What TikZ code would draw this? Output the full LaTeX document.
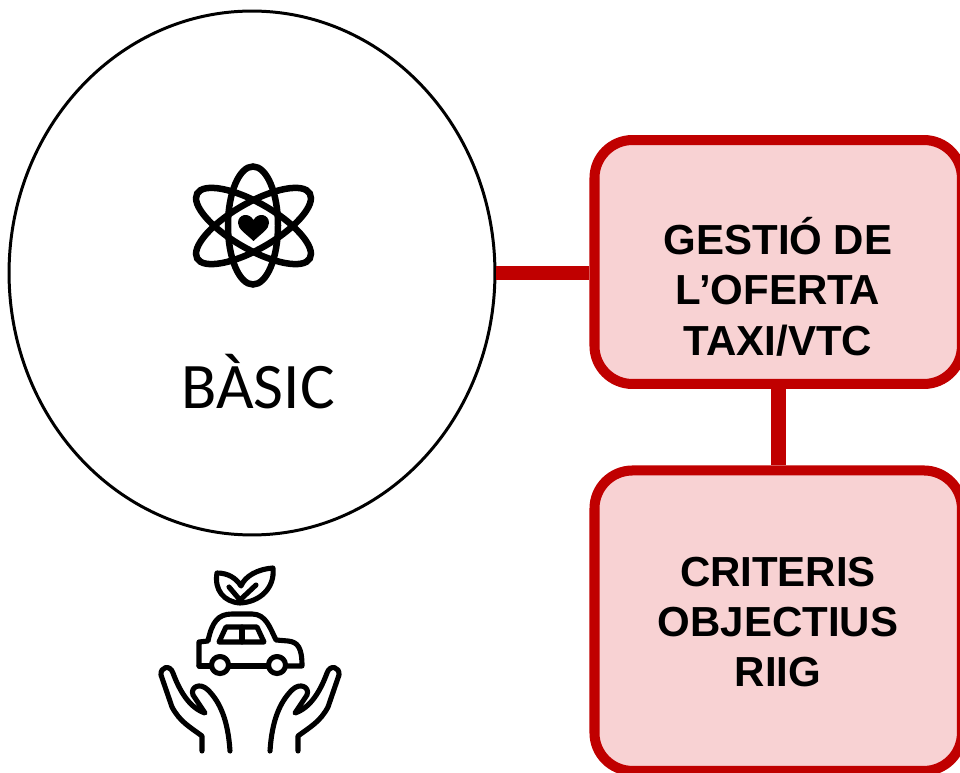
\documentclass[tikz,border=0pt]{standalone}
\usepackage{fontspec}
\usepackage{xcolor}
\setmainfont{Liberation Sans}
\newfontfamily\labelfont{Carlito}
\usetikzlibrary{shapes.geometric}
\definecolor{boxred}{HTML}{C00000}
\definecolor{boxfill}{HTML}{F8D2D3}
\tikzset{
  circleNode/.style={ellipse, draw=black, line width=1.7pt, fill=white, minimum width=9.72cm, minimum height=10.48cm, inner sep=0pt},
  boxNode/.style={rectangle, rounded corners=0.76cm, draw=boxred, fill=boxfill, line width=5.7pt, minimum width=7.35cm, inner sep=0pt},
  boxText/.style={align=center, font=\fontsize{23.9}{28.7}\selectfont\bfseries, inner sep=0pt},
  linkLine/.style={draw=boxred, line width=8.3pt},
  iconLine/.style={draw=black, line width=3.7pt},
  carLine/.style={draw=black, line width=2.9pt, line join=round, line cap=round}
}
\begin{document}
\begin{tikzpicture}[x=0.02cm,y=-0.02cm]
\useasboundingbox (0,0) rectangle (960,773);
\node[circleNode] (basic) at (252,273) {};
\node[boxNode, minimum height=4.88cm] (oferta) at (778.2,262) {};
\node[boxNode, minimum height=6.01cm] (criteris) at (778.2,620.7) {};
\node[boxText] (ofertalabel) at (778,286.5) {GESTIÓ DE\\L’OFERTA\\TAXI/VTC};
\node[boxText] (criterislabel) at (778,622) {CRITERIS\\OBJECTIUS\\RIIG};
\node[font=\labelfont\fontsize{37}{44}\selectfont] (basiclabel) at (258,382) {BÀSIC};
\draw[linkLine] (basic.east)--(basic.east -| oferta.west);
\draw[linkLine] (oferta.south)--(criteris.north);

% atom
\draw[iconLine] (253,225.5) ellipse (25 and 59);
\foreach \a in {60,-60}
  \draw[iconLine, rotate around={\a:(253.5,226)}] (253.5,226) ellipse (23 and 65);
\fill (253.5,241) .. controls (245,233) and (238,229) .. (238,223)
  .. controls (238,214) and (249,212) .. (253.5,220)
  .. controls (258,212) and (269,214) .. (269,223)
  .. controls (269,229) and (262,233) .. (253.5,241) -- cycle;

% leaves
\draw[carLine] (240,603) .. controls (224,602) and (214,590) .. (217,573)
  .. controls (228,573) and (236,578) .. (241,586)
  .. controls (245,576) and (258,569) .. (273,568)
  .. controls (275,588) and (260,602) .. (240,603) -- cycle;
\draw[carLine] (229,587)--(240,600)--(256,585);

% car
\draw[carLine] (199,666)--(199,642)--(208,641)
  .. controls (212,622) and (218,614) .. (232,614)
  -- (252,614) .. controls (266,614) and (270,628) .. (276,640)
  -- (288,641) .. controls (298,642) and (302,648) .. (302,666)--(287,666);
\draw[carLine] (229,666)--(268,666);
\draw[carLine] (199,666)--(211,666);
\draw[carLine] (220,665) circle (8.5);
\draw[carLine] (277,665) circle (8.5);
\draw[carLine] (219,642)--(226,627)--(257,627)--(264,642)--cycle;
\draw[carLine] (242,627)--(242,642);

% hands
\foreach \s in {1,-1} {
\begin{scope}[shift={(250,0)},xscale=\s]
\draw[carLine] (-48,751) -- (-48,736) .. controls (-60,727) and (-70,722) .. (-78,707)
  -- (-89,675) .. controls (-90,667) and (-80,664) .. (-77,673)
  .. controls (-70,692) and (-60,708) .. (-45,713)
  -- (-57,695) .. controls (-60,687) and (-50,682) .. (-42,690)
  .. controls (-30,702) and (-22,720) .. (-20,751);
\end{scope}
}
\end{tikzpicture}
\end{document}
